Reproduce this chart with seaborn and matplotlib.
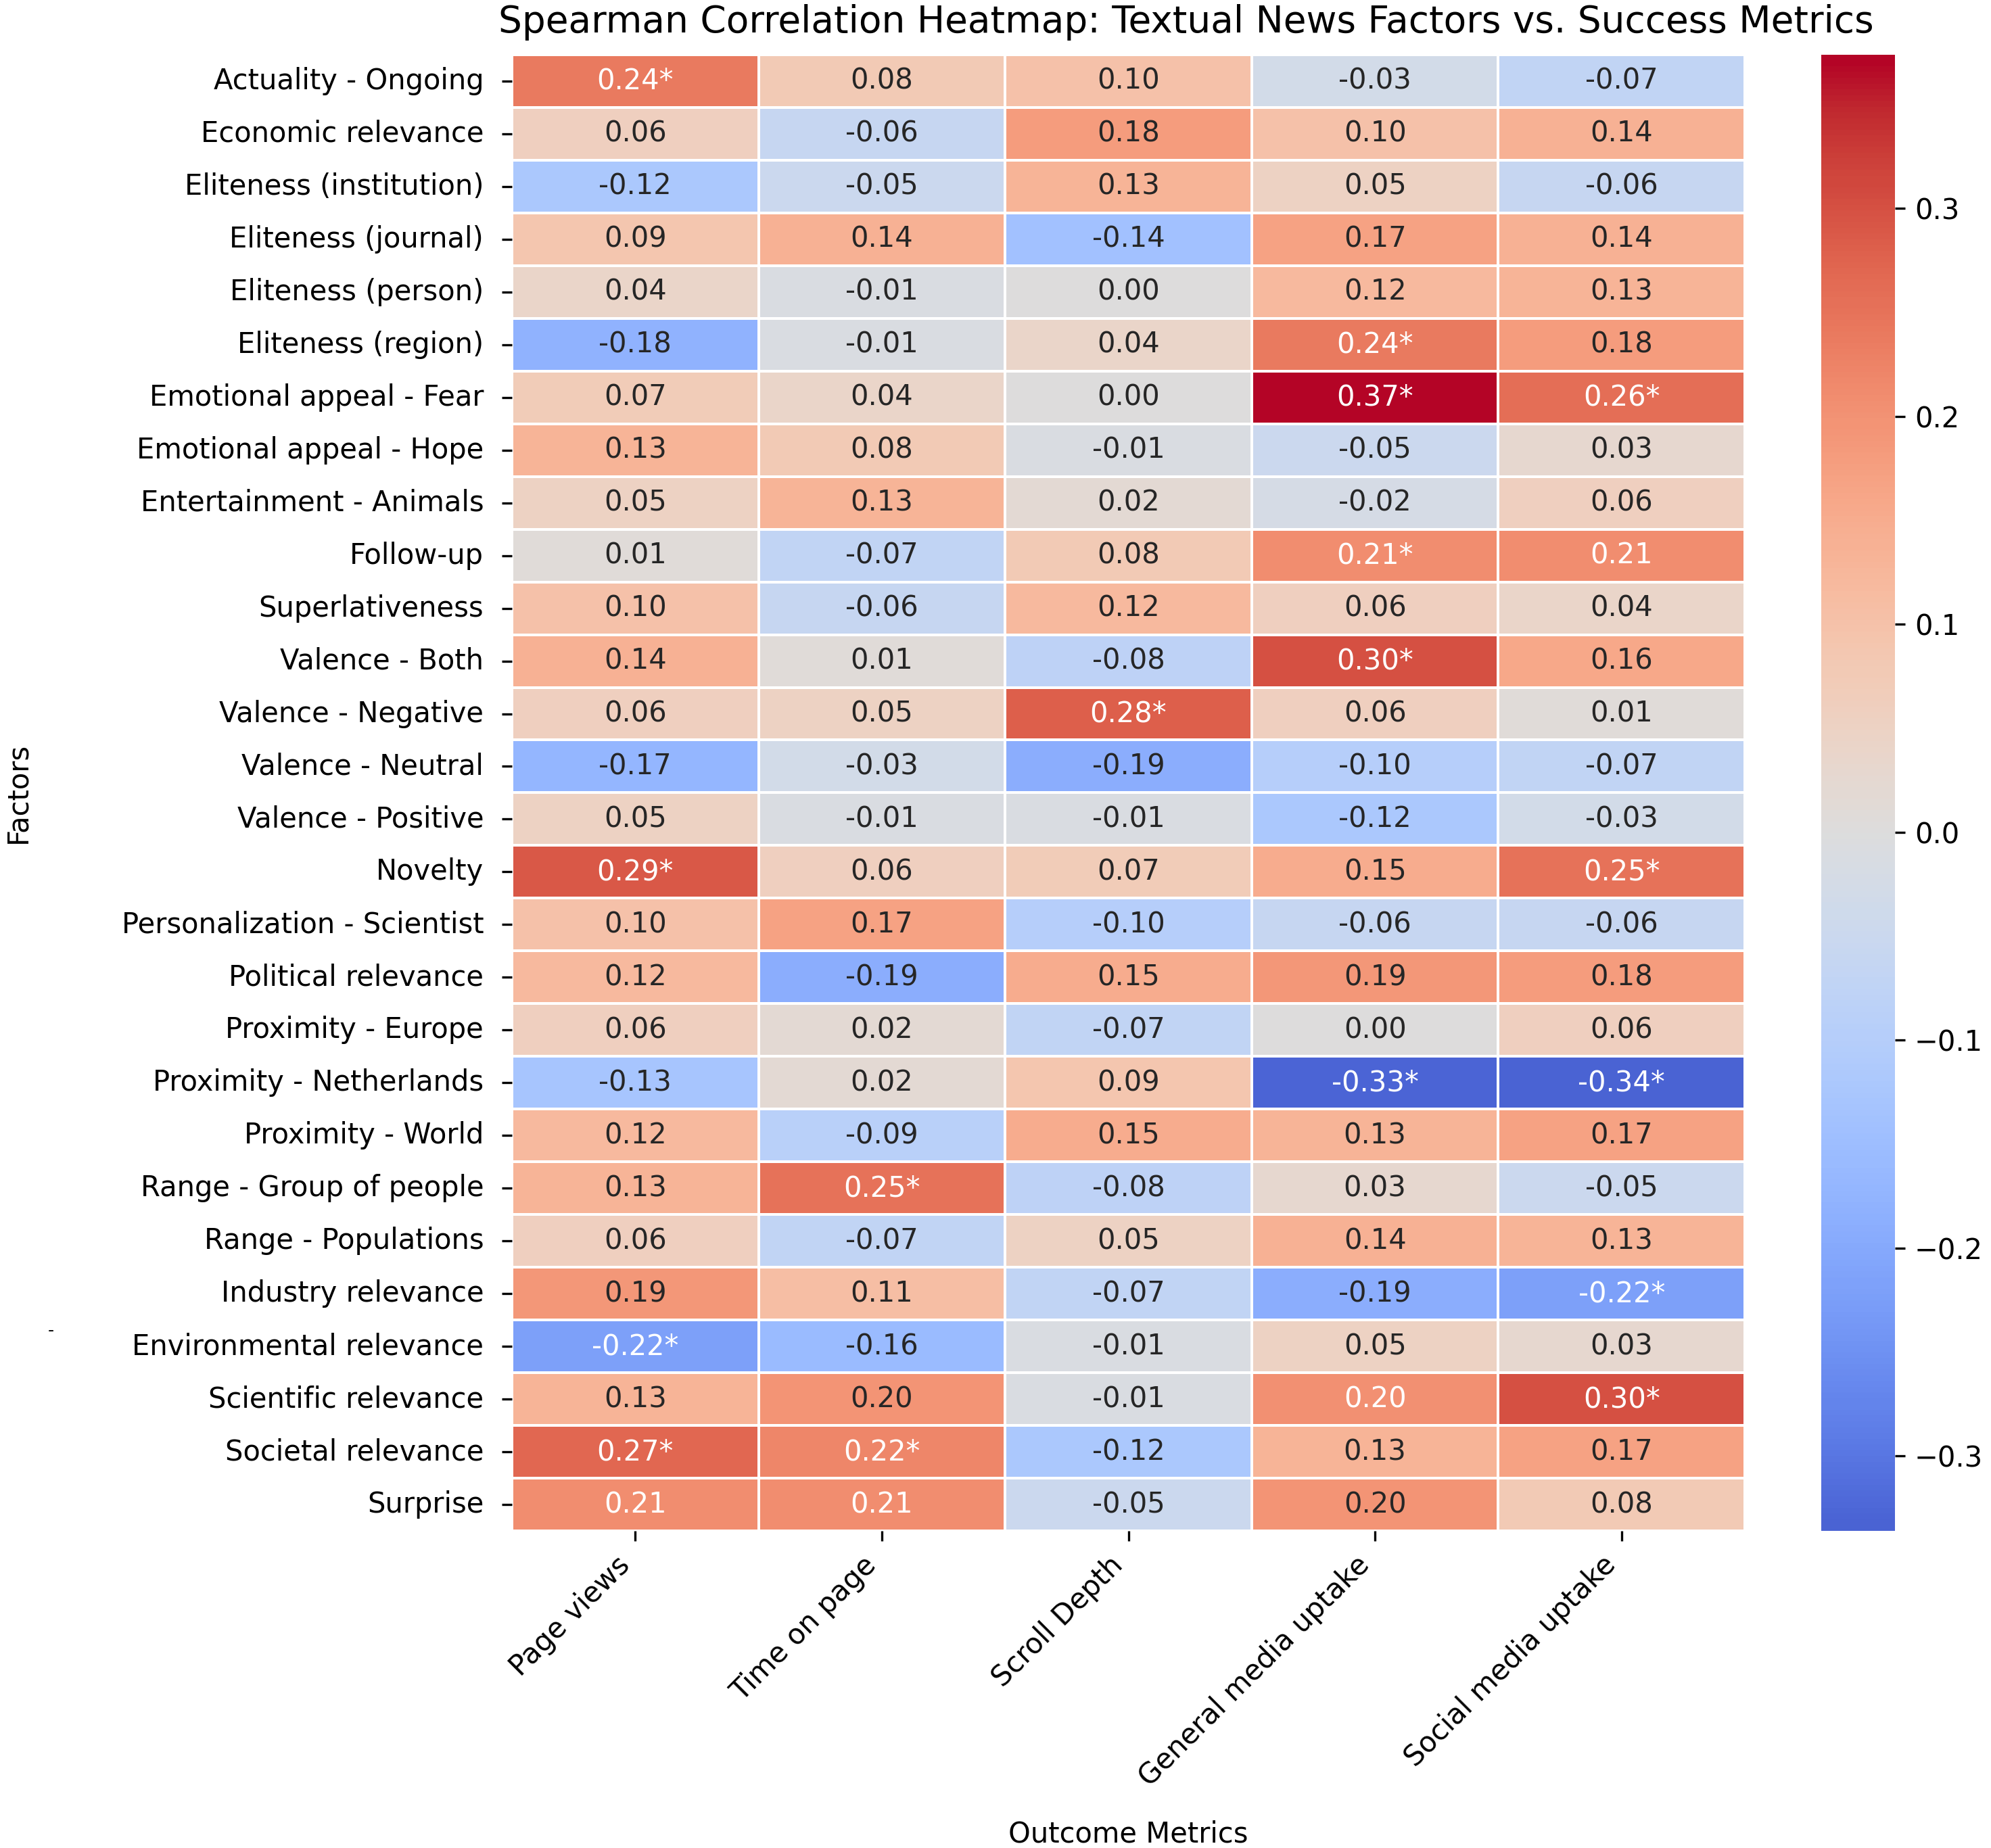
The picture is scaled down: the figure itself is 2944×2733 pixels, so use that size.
import numpy as np
import pandas as pd
import matplotlib
matplotlib.use("Agg")
import matplotlib.pyplot as plt
import seaborn as sns

factors = [
    "Actuality - Ongoing", "Economic relevance", "Eliteness (institution)",
    "Eliteness (journal)", "Eliteness (person)", "Eliteness (region)",
    "Emotional appeal - Fear", "Emotional appeal - Hope", "Entertainment - Animals",
    "Follow-up", "Superlativeness", "Valence - Both", "Valence - Negative",
    "Valence - Neutral", "Valence - Positive", "Novelty",
    "Personalization - Scientist", "Political relevance", "Proximity - Europe",
    "Proximity - Netherlands", "Proximity - World", "Range - Group of people",
    "Range - Populations", "Industry relevance", "Environmental relevance",
    "Scientific relevance", "Societal relevance", "Surprise",
]
metrics = ["Page views", "Time on page", "Scroll Depth",
           "General media uptake", "Social media uptake"]

page_views = [0.24, 0.06, -0.12, 0.09, 0.04, -0.18, 0.07, 0.13, 0.05, 0.01,
              0.10, 0.14, 0.06, -0.17, 0.05, 0.29, 0.10, 0.12, 0.06, -0.13,
              0.12, 0.13, 0.06, 0.19, -0.22, 0.13, 0.27, 0.21]
time_on_page = [0.08, -0.06, -0.05, 0.14, -0.01, -0.01, 0.04, 0.08, 0.13, -0.07,
                -0.06, 0.01, 0.05, -0.03, -0.01, 0.06, 0.17, -0.19, 0.02, 0.02,
                -0.09, 0.25, -0.07, 0.11, -0.16, 0.198, 0.22, 0.21]
scroll_depth = [0.10, 0.18, 0.13, -0.14, 0.00, 0.04, 0.00, -0.01, 0.02, 0.08,
                0.12, -0.08, 0.28, -0.19, -0.01, 0.07, -0.10, 0.15, -0.07, 0.09,
                0.15, -0.08, 0.05, -0.07, -0.01, -0.01, -0.12, -0.05]
general_media = [-0.03, 0.10, 0.05, 0.17, 0.12, 0.24, 0.374, -0.05, -0.02, 0.21,
                 0.06, 0.30, 0.06, -0.10, -0.12, 0.15, -0.06, 0.19, 0.00, -0.33,
                 0.13, 0.03, 0.14, -0.19, 0.05, 0.204, 0.13, 0.198]
social_media = [-0.07, 0.14, -0.06, 0.14, 0.13, 0.18, 0.26, 0.03, 0.06, 0.21,
                0.04, 0.16, 0.01, -0.07, -0.03, 0.25, -0.06, 0.18, 0.06, -0.336,
                0.17, -0.05, 0.13, -0.22, 0.03, 0.30, 0.17, 0.08]

# significance flags (p < 0.05), one row per factor
sig_page_views = [1, 0, 0, 0, 0, 0, 0, 0, 0, 0, 0, 0, 0, 0, 0, 1, 0, 0, 0, 0, 0, 0, 0, 0, 1, 0, 1, 0]
sig_time_on_page = [0, 0, 0, 0, 0, 0, 0, 0, 0, 0, 0, 0, 0, 0, 0, 0, 0, 0, 0, 0, 0, 1, 0, 0, 0, 0, 1, 0]
sig_scroll_depth = [0, 0, 0, 0, 0, 0, 0, 0, 0, 0, 0, 0, 1, 0, 0, 0, 0, 0, 0, 0, 0, 0, 0, 0, 0, 0, 0, 0]
sig_general_media = [0, 0, 0, 0, 0, 1, 1, 0, 0, 1, 0, 1, 0, 0, 0, 0, 0, 0, 0, 1, 0, 0, 0, 0, 0, 0, 0, 0]
sig_social_media = [0, 0, 0, 0, 0, 0, 1, 0, 0, 0, 0, 0, 0, 0, 0, 1, 0, 0, 0, 1, 0, 0, 0, 1, 0, 1, 0, 0]

corr = pd.DataFrame({
    metrics[0]: page_views,
    metrics[1]: time_on_page,
    metrics[2]: scroll_depth,
    metrics[3]: general_media,
    metrics[4]: social_media,
}, index=factors)

sig = pd.DataFrame({
    metrics[0]: sig_page_views,
    metrics[1]: sig_time_on_page,
    metrics[2]: sig_scroll_depth,
    metrics[3]: sig_general_media,
    metrics[4]: sig_social_media,
}, index=factors)

labels = corr.copy().astype(object)
for f in factors:
    for m in metrics:
        txt = f"{corr.loc[f, m]:.2f}"
        if txt == "-0.00":
            txt = "0.00"
        if sig.loc[f, m]:
            txt += "*"
        labels.loc[f, m] = txt

fig = plt.figure(figsize=(2944 / 300, 2733 / 300), dpi=300)
ax = fig.add_axes([0.2571, 0.1716, 0.6193, 0.7988])
cax = fig.add_axes([0.9147, 0.1716, 0.0370, 0.7988])

sns.heatmap(corr, annot=labels.values, fmt="", cmap="coolwarm", center=0,
            linewidths=0.5, linecolor="white", ax=ax, cbar_ax=cax,
            annot_kws={"fontsize": 10})

ax.set_title("Spearman Correlation Heatmap: Textual News Factors vs. Success Metrics",
             fontsize=13.2, pad=8, x=0.547)
ax.set_xlabel("Outcome Metrics", fontsize=10, labelpad=10)
ax.set_ylabel("Factors", fontsize=10)
ax.yaxis.set_label_coords(-0.389, 0.5)
ax.set_xticklabels(ax.get_xticklabels(), rotation=45, ha="right", fontsize=10)
ax.set_yticklabels(ax.get_yticklabels(), rotation=0, fontsize=10)
ax.tick_params(axis="y", pad=6.5)
cax.tick_params(labelsize=10)

fig.text(0.0241, 0.2773, "-", fontsize=6)

fig.savefig("out.png", dpi=300)
